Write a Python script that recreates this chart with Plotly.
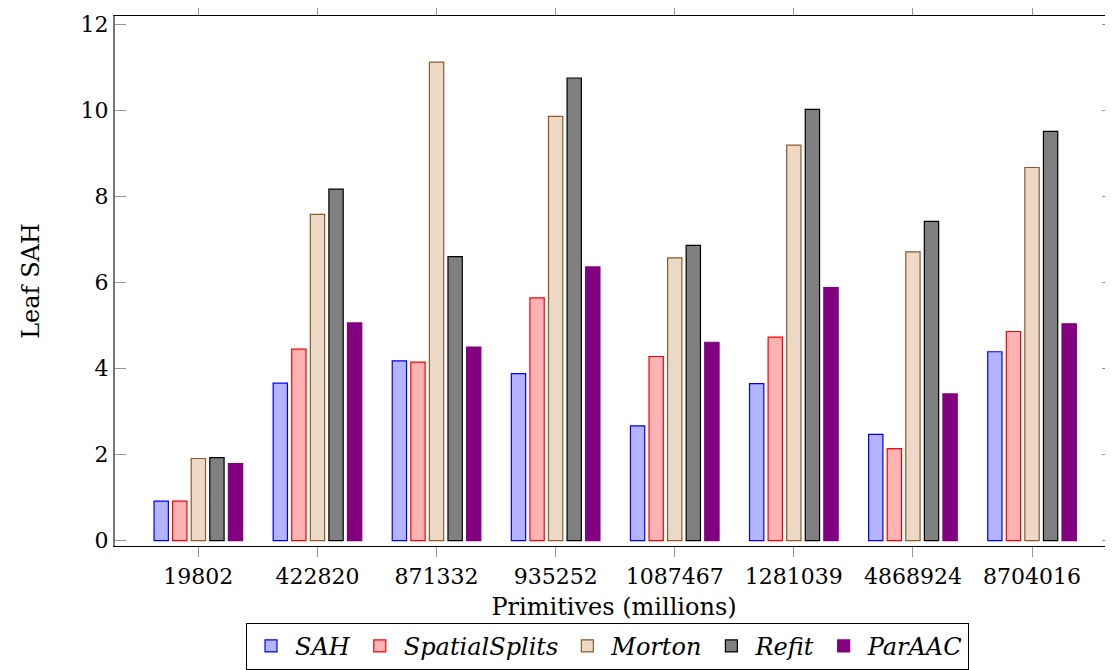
import plotly.graph_objects as go

categories = ["19802", "422820", "871332", "935252", "1087467", "1281039", "4868924", "8704016"]
sah = [0.92, 3.66, 4.18, 3.88, 2.67, 3.65, 2.47, 4.39]
spatial = [0.92, 4.45, 4.15, 5.64, 4.28, 4.73, 2.14, 4.86]
morton = [1.91, 7.58, 11.12, 9.86, 6.57, 9.19, 6.71, 8.67]
refit = [1.93, 8.17, 6.60, 10.75, 6.86, 10.02, 7.42, 9.51]
paraac = [1.79, 5.06, 4.50, 6.36, 4.61, 5.88, 3.41, 5.04]

series = [
    ("SAH", sah, "rgb(179,179,255)", "rgb(0,0,255)"),
    ("SpatialSplits", spatial, "rgb(255,179,179)", "rgb(255,0,0)"),
    ("Morton", morton, "rgb(236,217,198)", "rgb(140,90,45)"),
    ("Refit", refit, "rgb(128,128,128)", "rgb(0,0,0)"),
    ("ParAAC", paraac, "rgb(128,0,128)", "rgb(128,0,128)"),
]

FONT = "DejaVu Serif, Liberation Serif, serif"
FS = 24
TFS = 22

fig = go.Figure()
for name, vals, fill, line in series:
    fig.add_trace(go.Bar(
        x=categories, y=vals, name=f"<i>{name}</i>",
        marker=dict(color=fill, line=dict(color=line, width=1.2)),
    ))

fig.update_layout(
    width=1105, height=662,
    margin=dict(l=107, r=0, t=8, b=124),
    paper_bgcolor="white", plot_bgcolor="white",
    font=dict(family=FONT, size=FS, color="black"),
    barmode="group", bargap=0.22, bargroupgap=0.23,
    showlegend=True,
    legend=dict(
        orientation="h", x=0.4935, xanchor="center", y=-0.145, yanchor="top",
        bordercolor="black", borderwidth=1, bgcolor="white",
        font=dict(family=FONT, size=FS), itemwidth=38, tracegroupgap=0,
    ),
    xaxis=dict(
        type="category", range=[-0.70, 7.68], automargin=False,
        showline=True, linecolor="black", linewidth=1.2, mirror="ticks",
        ticks="outside", ticklen=10, tickcolor="rgb(150,150,150)", tickwidth=1.2,
        tickfont=dict(family=FONT, size=TFS),
        showgrid=False, zeroline=False,
        title=dict(text="Primitives (millions)", font=dict(family=FONT, size=FS), standoff=10),
    ),
    yaxis=dict(
        range=[-0.123, 12.19], automargin=False,
        tickvals=[0, 2, 4, 6, 8, 10, 12],
        showline=True, linecolor="rgb(120,120,120)", linewidth=2, mirror="ticks",
        ticks="inside", ticklen=11, tickcolor="rgb(150,150,150)", tickwidth=1.2,
        tickfont=dict(family=FONT, size=TFS),
        showgrid=False, zeroline=False,
        title=dict(text="Leaf SAH", font=dict(family=FONT, size=FS), standoff=34),
    ),
)

fig.write_html("out.html")
